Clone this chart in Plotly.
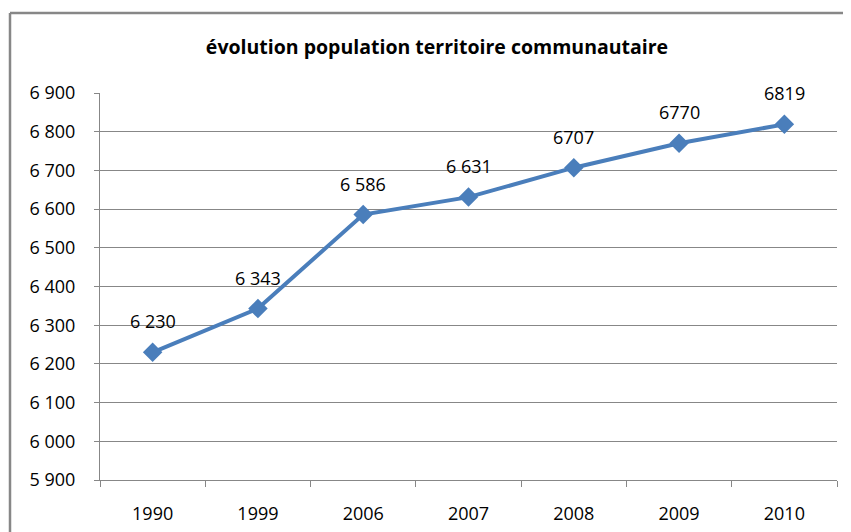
import plotly.graph_objects as go

years = ["1990", "1999", "2006", "2007", "2008", "2009", "2010"]
population = [6230, 6343, 6586, 6631, 6707, 6770, 6819]
point_labels = ["6 230", "6 343", "6 586", "6 631", "6707", "6770", "6819"]
y_ticks = [5900, 6000, 6100, 6200, 6300, 6400, 6500, 6600, 6700, 6800, 6900]
y_tick_text = ["5 900", "6 000", "6 100", "6 200", "6 300", "6 400", "6 500",
               "6 600", "6 700", "6 800", "6 900"]
title_text = "évolution population territoire communautaire"

FONT = "Open Sans, Liberation Sans, sans-serif"
GRID = "#878787"

# page has an 8px body margin: figure coords = screenshot coords - 8
L, R, T, B = 92, 22, 85, 60
PW, PH = 851 - L - R, 532 - T - B

fig = go.Figure()
fig.add_trace(go.Scatter(
    x=years, y=population, mode="lines+markers",
    line=dict(color="#4A7EBB", width=4),
    marker=dict(symbol="diamond", size=15, color="#4A7EBB"),
    hoverinfo="skip", showlegend=False,
))

# data labels (category axis: annotations use category index positions)
for i, (yv, t) in enumerate(zip(population, point_labels)):
    fig.add_annotation(x=i, y=yv, xref="x", yref="y", text=t, showarrow=False,
                       yshift=31,
                       font=dict(family=FONT, size=18, color="#000000"))

fig.update_layout(
    width=851, height=532,
    margin=dict(l=L, r=R, t=T, b=B, autoexpand=False),
    paper_bgcolor="white", plot_bgcolor="white",
    title=dict(text=title_text, x=429 / 851, xanchor="center", y=1 - 39 / 532,
               yanchor="middle",
               font=dict(family=FONT, size=19.5, color="#000000", weight="bold")),
    font=dict(family=FONT, color="#000000"),
)

fig.update_xaxes(
    type="category", categoryorder="array", categoryarray=years,
    range=[-0.5, len(years) - 0.5], autorange=False,
    tickson="boundaries", ticks="outside", ticklen=6, tickangle=0,
    tickcolor=GRID, showline=True, linecolor=GRID, linewidth=1,
    showgrid=False, tickfont=dict(size=18, family=FONT), ticklabelstandoff=17,
    automargin=False,
)
fig.update_yaxes(
    range=[5900, 6900], autorange=False, tickvals=y_ticks, ticktext=y_tick_text,
    ticks="outside", ticklen=5, tickcolor=GRID, showline=True,
    linecolor=GRID, linewidth=1, showgrid=True, gridcolor=GRID, gridwidth=1,
    tickfont=dict(size=18, family=FONT), ticklabelstandoff=15, zeroline=False,
    automargin=False,
)

# outer chart frame (left and top edges visible)
fx = (2 - L) / PW
fy = 1 + (T - 5) / PH
fig.add_shape(type="line", xref="paper", yref="paper",
              x0=fx, x1=fx, y0=fy, y1=-0.3,
              line=dict(color=GRID, width=2.5))
fig.add_shape(type="line", xref="paper", yref="paper",
              x0=fx, x1=1.2, y0=fy, y1=fy,
              line=dict(color=GRID, width=2.5))

fig.write_html("out.html")
